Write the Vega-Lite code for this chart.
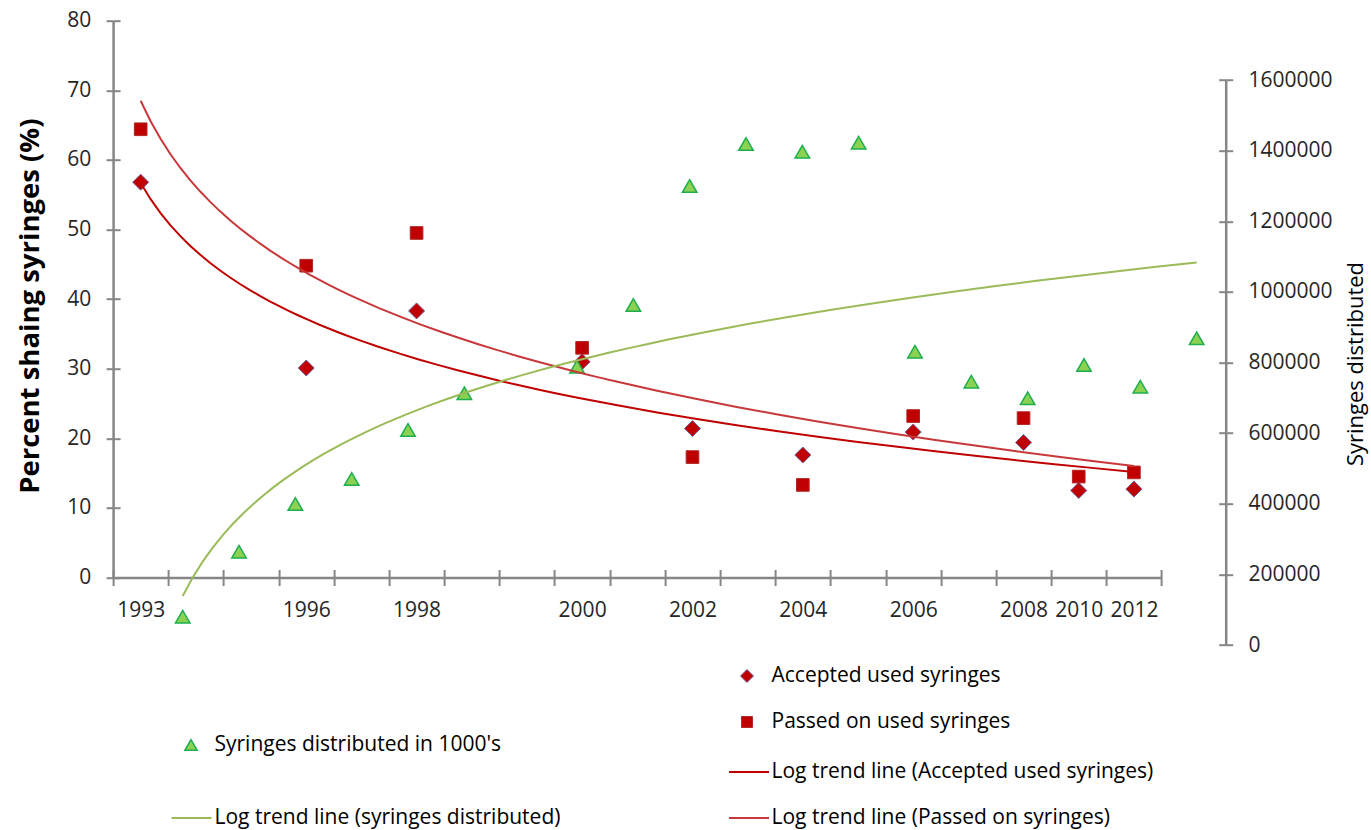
{
  "$schema": "https://vega.github.io/schema/vega-lite/v6.json",
  "width": 1048.4,
  "height": 624.3,
  "autosize": {"type": "none"},
  "padding": {"left": 113.1, "top": 20.7, "right": 209.5, "bottom": 185},
  "background": "white",
  "config": {"view": {"stroke": null}, "font": "Open Sans"},
  "datasets": {
    "survey": [
      {"year": "1993", "idx": 1, "accepted": 56.8, "passed": 64.4},
      {"year": "1996", "idx": 4, "accepted": 30.1, "passed": 44.8},
      {"year": "1998", "idx": 6, "accepted": 38.3, "passed": 49.5},
      {"year": "2000", "idx": 9, "accepted": 31.0, "passed": 33.0},
      {"year": "2002", "idx": 11, "accepted": 21.4, "passed": 17.3},
      {"year": "2004", "idx": 13, "accepted": 17.6, "passed": 13.3},
      {"year": "2006", "idx": 15, "accepted": 20.9, "passed": 23.2},
      {"year": "2008", "idx": 17, "accepted": 19.4, "passed": 22.9},
      {"year": "2010", "idx": 18, "accepted": 12.5, "passed": 14.5},
      {"year": "2012", "idx": 19, "accepted": 12.7, "passed": 15.1}
    ],
    "distributed": [
      {"idx": 1, "syringes": 80200},
      {"idx": 2, "syringes": 264300},
      {"idx": 3, "syringes": 399400},
      {"idx": 4, "syringes": 470300},
      {"idx": 5, "syringes": 609100},
      {"idx": 6, "syringes": 713000},
      {"idx": 8, "syringes": 788400},
      {"idx": 9, "syringes": 963200},
      {"idx": 10, "syringes": 1300300},
      {"idx": 11, "syringes": 1419300},
      {"idx": 12, "syringes": 1397500},
      {"idx": 13, "syringes": 1423000},
      {"idx": 14, "syringes": 830900},
      {"idx": 15, "syringes": 745900},
      {"idx": 16, "syringes": 698900},
      {"idx": 17, "syringes": 793200},
      {"idx": 18, "syringes": 731700},
      {"idx": 19, "syringes": 868800}
    ]
  },
  "layer": [
    {
      "data": {"name": "survey"},
      "mark": {"type": "point", "shape": "diamond", "filled": true, "size": 256, "stroke": "#6F5FA0", "strokeWidth": 1, "opacity": 1},
      "encoding": {
        "x": {
          "field": "idx", "type": "quantitative",
          "scale": {"domain": [0.5, 19.5], "nice": false, "zero": false},
          "axis": {
            "orient": "bottom", "offset": -67.5, "title": null,
            "values": [0.5,1.5,2.5,3.5,4.5,5.5,6.5,7.5,8.5,9.5,10.5,11.5,12.5,13.5,14.5,15.5,16.5,17.5,18.5,19.5],
            "labelExpr": "['1993','','','1996','','1998','','','2000','','2002','','2004','','2006','','2008','2010','2012',''][round(datum.value - 0.5)]",
            "labelOffset": 27.59, "labelPadding": 13.6, "labelAngle": 0,
            "labelFont": "Open Sans", "labelFontSize": 21, "labelColor": "#262626",
            "labelFlush": false, "labelOverlap": false, "labelBound": false,
            "tickSize": 8, "tickColor": "#868686", "tickWidth": 2,
            "domainColor": "#868686", "domainWidth": 2.5,
            "grid": true, "gridColor": "#868686", "gridWidth": 2, "gridDash": [0, 548.8, 8, 3000]
          }
        },
        "y": {
          "field": "accepted", "type": "quantitative",
          "scale": {"domain": [-9.698, 80], "nice": false, "zero": false},
          "axis": {
            "orient": "left",
            "values": [0, 10, 20, 30, 40, 50, 60, 70, 80],
            "title": "Percent shaing syringes (%)",
            "titleFont": "Open Sans", "titleFontSize": 27.5, "titleFontWeight": "bold", "titleColor": "#000000",
            "titleAngle": 270, "titleX": -83, "titleY": 285, "titleAlign": "center", "titleBaseline": "middle",
            "labelFont": "Open Sans", "labelFontSize": 21, "labelColor": "#262626", "labelPadding": 15.4,
            "labelFlush": false, "labelOverlap": false,
            "tickSize": 7, "tickColor": "#868686", "tickWidth": 2,
            "domainColor": "#868686", "domainWidth": 2.5, "domainDash": [0, 67.5, 700],
            "grid": true, "gridColor": "#868686", "gridWidth": 2, "gridDash": [7, 3000]
          }
        },
        "fill": {
          "datum": "Accepted used syringes", "type": "nominal",
          "scale": {"range": ["#C00000"]},
          "legend": {
            "orient": "none", "legendX": 623.4, "legendY": 644.8, "title": null, "padding": 0,
            "symbolType": "diamond", "symbolSize": 170, "symbolStrokeColor": "#6F5FA0", "symbolStrokeWidth": 1, "symbolOpacity": 1,
            "labelFont": "Open Sans", "labelFontSize": 21, "labelColor": "#000000", "labelOffset": 14, "labelLimit": 600
          }
        }
      }
    },
    {
      "data": {"name": "survey"},
      "mark": {"type": "point", "shape": "square", "filled": true, "size": 160, "stroke": "#B02828", "strokeWidth": 1, "opacity": 1},
      "encoding": {
        "x": {"field": "idx", "type": "quantitative", "scale": {"domain": [0.5, 19.5], "nice": false, "zero": false}, "axis": null},
        "y": {"field": "passed", "type": "quantitative", "scale": {"domain": [-9.698, 80], "nice": false, "zero": false}, "axis": null},
        "fill": {
          "datum": "Passed on used syringes", "type": "nominal",
          "scale": {"range": ["#C00000"]},
          "legend": {
            "orient": "none", "legendX": 623.4, "legendY": 690.8, "title": null, "padding": 0,
            "symbolType": "square", "symbolSize": 120, "symbolStrokeColor": "#B02828", "symbolStrokeWidth": 1, "symbolOpacity": 1,
            "labelFont": "Open Sans", "labelFontSize": 21, "labelColor": "#000000", "labelOffset": 14, "labelLimit": 600
          }
        }
      }
    },
    {
      "data": {"name": "distributed"},
      "mark": {"type": "point", "shape": "triangle-up", "filled": true, "size": 210, "stroke": "#1EAE4E", "strokeWidth": 1.5, "opacity": 1},
      "encoding": {
        "x": {"field": "idx", "type": "quantitative", "scale": {"domain": [-0.2356, 18.376], "nice": false, "zero": false}, "axis": null},
        "y": {
          "field": "syringes", "type": "quantitative",
          "scale": {"domain": [0, 1768555], "nice": false, "zero": false},
          "axis": {
            "orient": "right", "offset": 64.2,
            "values": [0, 200000, 400000, 600000, 800000, 1000000, 1200000, 1400000, 1600000],
            "format": "d",
            "title": "Syringes  distributed",
            "titleFont": "Open Sans", "titleFontSize": 22, "titleFontWeight": "normal", "titleColor": "#000000",
            "titleAngle": 270, "titleX": 130, "titleY": 342.8, "titleAlign": "center", "titleBaseline": "middle",
            "labelFont": "Open Sans", "labelFontSize": 21, "labelColor": "#262626", "labelPadding": 15.3,
            "labelFlush": false, "labelOverlap": false,
            "tickSize": 7, "tickColor": "#868686", "tickWidth": 2,
            "domainColor": "#868686", "domainWidth": 2.5, "domainDash": [564.8, 2000],
            "grid": false
          }
        },
        "fill": {
          "datum": "Syringes distributed in 1000's", "type": "nominal",
          "scale": {"range": ["#8BD152"]},
          "legend": {
            "orient": "none", "legendX": 67.4, "legendY": 713.8, "title": null, "padding": 0,
            "symbolType": "triangle-up", "symbolSize": 150, "symbolStrokeColor": "#1EAE4E", "symbolStrokeWidth": 1.5, "symbolOpacity": 1,
            "labelFont": "Open Sans", "labelFontSize": 21, "labelColor": "#000000", "labelOffset": 13, "labelLimit": 600
          }
        }
      }
    },
    {
      "data": {"name": "survey"},
      "transform": [{"regression": "accepted", "on": "idx", "method": "log"}],
      "mark": {"type": "line", "strokeWidth": 2},
      "encoding": {
        "x": {"field": "idx", "type": "quantitative", "scale": {"domain": [0.5, 19.5], "nice": false, "zero": false}, "axis": null},
        "y": {"field": "accepted", "type": "quantitative", "scale": {"domain": [-9.698, 80], "nice": false, "zero": false}, "axis": null},
        "stroke": {
          "datum": "Log trend line (Accepted used syringes)", "type": "nominal",
          "scale": {"range": ["#C00000"]},
          "legend": {
            "orient": "none", "legendX": 614.9, "legendY": 730.3, "title": null, "padding": 0,
            "symbolType": "stroke", "symbolSize": 1600, "symbolStrokeWidth": 2,
            "labelFont": "Open Sans", "labelFontSize": 21, "labelColor": "#000000", "labelOffset": 1.5, "labelLimit": 600
          }
        }
      }
    },
    {
      "data": {"name": "survey"},
      "transform": [{"regression": "passed", "on": "idx", "method": "log"}],
      "mark": {"type": "line", "strokeWidth": 2},
      "encoding": {
        "x": {"field": "idx", "type": "quantitative", "scale": {"domain": [0.5, 19.5], "nice": false, "zero": false}, "axis": null},
        "y": {"field": "passed", "type": "quantitative", "scale": {"domain": [-9.698, 80], "nice": false, "zero": false}, "axis": null},
        "stroke": {
          "datum": "Log trend line (Passed on syringes)", "type": "nominal",
          "scale": {"range": ["#C8383A"]},
          "legend": {
            "orient": "none", "legendX": 614.9, "legendY": 776.3, "title": null, "padding": 0,
            "symbolType": "stroke", "symbolSize": 1600, "symbolStrokeWidth": 2,
            "labelFont": "Open Sans", "labelFontSize": 21, "labelColor": "#000000", "labelOffset": 1.5, "labelLimit": 600
          }
        }
      }
    },
    {
      "data": {"name": "distributed"},
      "transform": [{"regression": "syringes", "on": "idx", "method": "log"}],
      "mark": {"type": "line", "strokeWidth": 2},
      "encoding": {
        "x": {"field": "idx", "type": "quantitative", "scale": {"domain": [-0.2356, 18.376], "nice": false, "zero": false}, "axis": null},
        "y": {
          "field": "syringes", "type": "quantitative",
          "scale": {"domain": [0, 1768555], "nice": false, "zero": false},
          "axis": {
            "orient": "right", "offset": 57.2,
            "values": [0, 200000, 400000, 600000, 800000, 1000000, 1200000, 1400000, 1600000],
            "title": null, "labels": false, "domain": false, "grid": false,
            "tickSize": 7, "tickColor": "#868686", "tickWidth": 2
          }
        },
        "stroke": {
          "datum": "Log trend line (syringes distributed)", "type": "nominal",
          "scale": {"range": ["#9BBB59"]},
          "legend": {
            "orient": "none", "legendX": 57.4, "legendY": 776.3, "title": null, "padding": 0,
            "symbolType": "stroke", "symbolSize": 1600, "symbolStrokeWidth": 2,
            "labelFont": "Open Sans", "labelFontSize": 21, "labelColor": "#000000", "labelOffset": 2, "labelLimit": 600
          }
        }
      }
    }
  ],
  "resolve": {
    "scale": {"x": "independent", "y": "independent", "fill": "independent", "stroke": "independent"},
    "axis": {"x": "independent", "y": "independent"},
    "legend": {"fill": "independent", "stroke": "independent"}
  }
}
